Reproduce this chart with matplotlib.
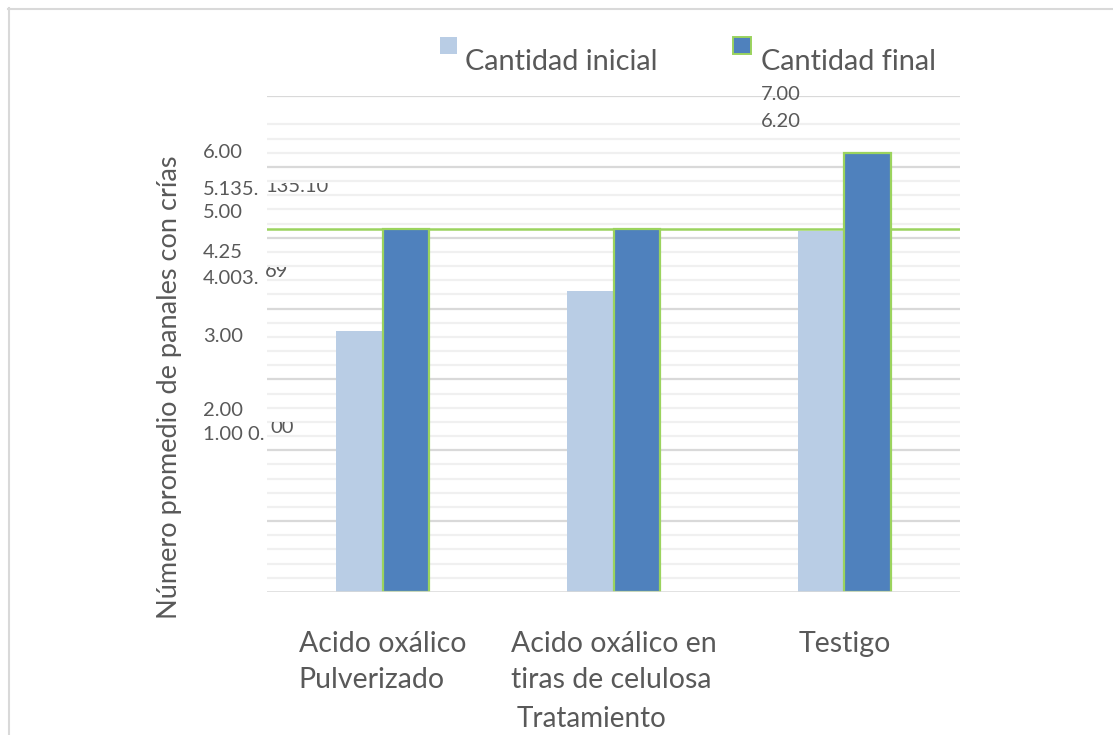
import matplotlib.pyplot as plt
from matplotlib.patches import Rectangle
from matplotlib.lines import Line2D
from matplotlib.transforms import Bbox, TransformedBbox

plt.rcParams['font.family'] = ['Lato', 'DejaVu Sans']

categories = ["Acido oxálico\nPulverizado", "Acido oxálico en\ntiras de celulosa", "Testigo"]
initial = [3.69, 4.25, 5.10]
final = [5.13, 5.13, 6.20]
series_names = ["Cantidad inicial", "Cantidad final"]
y_ticks = [0, 1, 2, 3, 4, 5, 6, 7]

c_initial = '#B9CDE5'
c_final = '#4F81BD'
c_green = '#9BD35E'
c_text = '#595959'

W, H = 1113, 735
fig = plt.figure(figsize=(W / 100, H / 100), dpi=100)


def px(x, y):
    return x / W, 1 - y / H


ax = fig.add_axes([267 / W, 1 - 592 / H, (960 - 267) / W, (592 - 96) / H])
ax.set_xlim(-0.5, 2.5)
ax.set_ylim(0, 7)
for s in ax.spines.values():
    s.set_visible(False)
ax.set_yticks([])

# gridlines: majors every 1, minors every 0.2 (minors stop at 6.6)
for k in range(1, 34):
    v = k * 0.2
    if k % 5 == 0:
        ax.axhline(v, color='#D9D9D9', lw=1.6, zorder=0)
    else:
        ax.axhline(v, color='#F0F0F0', lw=1.6, zorder=0)
ax.axhline(y_ticks[-1], color='#D9D9D9', lw=1.6, zorder=0)

x = list(range(len(categories)))
ax.bar([i - 0.1 for i in x], initial, width=0.2, color=c_initial, zorder=2)
ax.bar([i + 0.1 for i in x], final, width=0.2, color=c_final,
       edgecolor=c_green, linewidth=1.6, zorder=2)
ax.axhline(final[0], color=c_green, lw=1.8, zorder=1)
ax.axhline(0, color='#D9D9D9', lw=1.8, zorder=3)

ax.set_xticks(x, categories)
ax.tick_params(axis='x', length=0, pad=28, labelsize=20.5, labelcolor=c_text)
for lab in ax.get_xticklabels():
    lab.set_multialignment('left')
    lab.set_linespacing(1.5)

# legend
fig.add_artist(Rectangle(px(440, 54), 17 / W, 17 / H, transform=fig.transFigure,
                         facecolor=c_initial, edgecolor='none'))
fig.add_artist(Rectangle(px(733, 54), 18 / W, 17 / H, transform=fig.transFigure,
                         facecolor=c_final, edgecolor=c_green, lw=1.4))
fig.text(*px(465, 70), series_names[0], fontsize=20.8, color=c_text, va='baseline')
fig.text(*px(761, 70), series_names[1], fontsize=20.8, color=c_text, va='baseline')

num = dict(fontsize=14.5, color=c_text, va='baseline')
fig.text(*px(761, 100), f"{y_ticks[7]:.2f}", **num)
fig.text(*px(761, 127), f"{final[2]:.2f}", **num)

# value labels stacked along the left edge
rows = [
    (158, f"{y_ticks[6]:.2f}"),
    (195, f"{final[0]:.2f}" + f"{final[1]:.2f}"[:2]),
    (218, f"{y_ticks[5]:.2f}"),
    (258, f"{initial[1]:.2f}"),
    (284, f"{y_ticks[4]:.2f}" + f"{initial[0]:.2f}"[:2]),
    (342, f"{y_ticks[3]:.2f}"),
    (416, f"{y_ticks[2]:.2f}"),
    (440, f"{y_ticks[1]:.2f} " + f"{y_ticks[0]:.2f}"[:2]),
]
for yb, s in rows:
    fig.text(*px(203, yb), s, **num)

# continuation of those labels, cut off at the top
tails = [
    (265, 192, 183, f"{final[1]:.2f}"[2:] + f"{initial[2]:.2f}"),
    (265, 277, 267, f"{initial[0]:.2f}"[2:]),
    (270, 433, 422, f"{y_ticks[0]:.2f}"[2:]),
]
for xt, yb, ytop, s in tails:
    t = fig.text(*px(xt, yb), s, **num)
    x0, y0 = px(xt - 2, yb + 6)
    x1, y1 = px(xt + 90, ytop)
    t.set_clip_box(TransformedBbox(Bbox([[x0, y0], [x1, y1]]), fig.transFigure))
    t.set_clip_on(True)

fig.text(*px(170, 387), "Número promedio de panales con crías", fontsize=19.5,
         color=c_text, rotation=90, ha='center', va='center')
fig.text(*px(517, 727), "Tratamiento", fontsize=20, color=c_text, va='baseline')

# chart frame
fig.add_artist(Line2D([px(8, 8)[0], 1], [px(8, 8.5)[1]] * 2,
                      transform=fig.transFigure, color='#D9D9D9', lw=1.5))
fig.add_artist(Line2D([px(8.5, 8)[0]] * 2, [px(8, 8)[1], 0],
                      transform=fig.transFigure, color='#D9D9D9', lw=1.5))

fig.savefig('out.png', dpi=100)
